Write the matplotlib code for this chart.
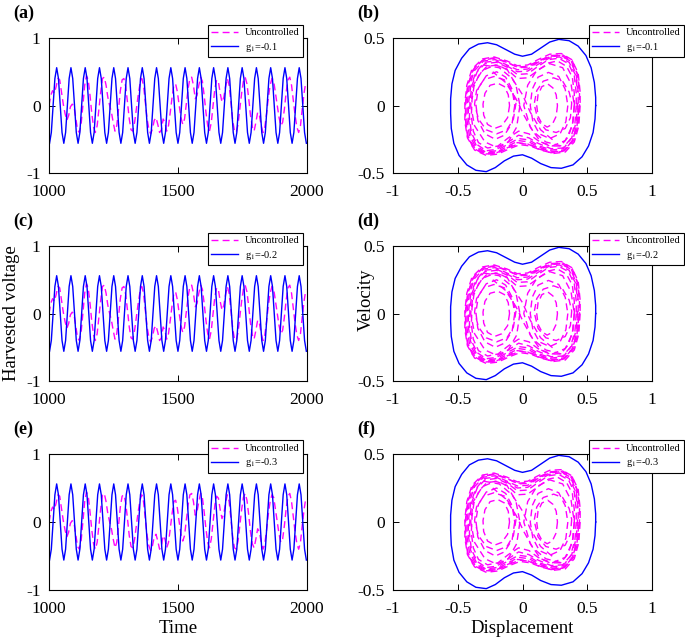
import numpy as np
import matplotlib
matplotlib.use("Agg")
import matplotlib.pyplot as plt

plt.rcParams['font.family'] = ['Liberation Serif', 'DejaVu Serif']
plt.rcParams['mathtext.fontset'] = 'stix'
plt.rcParams['axes.unicode_minus'] = False

# ---- time series ----
t_start_blue = 1002.1
dt_blue = 6.9125          # 8 samples per forcing period (~55.3)
# controlled voltage, one row per period
volt_ctrl = [
    -0.56, -0.40, 0.00, 0.40, 0.56, 0.40, 0.00, -0.40,
    -0.56, -0.40, 0.00, 0.40, 0.56, 0.40, 0.00, -0.40,
    -0.56, -0.40, 0.00, 0.40, 0.56, 0.40, 0.00, -0.40,
    -0.56, -0.40, 0.00, 0.40, 0.56, 0.40, 0.00, -0.40,
    -0.56, -0.40, 0.00, 0.40, 0.56, 0.40, 0.00, -0.40,
    -0.56, -0.40, 0.00, 0.40, 0.56, 0.40, 0.00, -0.40,
    -0.56, -0.40, 0.00, 0.40, 0.56, 0.40, 0.00, -0.40,
    -0.56, -0.40, 0.00, 0.40, 0.56, 0.40, 0.00, -0.40,
    -0.56, -0.40, 0.00, 0.40, 0.56, 0.40, 0.00, -0.40,
    -0.56, -0.40, 0.00, 0.40, 0.56, 0.40, 0.00, -0.40,
    -0.56, -0.40, 0.00, 0.40, 0.56, 0.40, 0.00, -0.40,
    -0.56, -0.40, 0.00, 0.40, 0.56, 0.40, 0.00, -0.40,
    -0.56, -0.40, 0.00, 0.40, 0.56, 0.40, 0.00, -0.40,
    -0.56, -0.40, 0.00, 0.40, 0.56, 0.40, 0.00, -0.40,
    -0.56, -0.40, 0.00, 0.40, 0.56, 0.40, 0.00, -0.40,
    -0.56, -0.40, 0.00, 0.40, 0.56, 0.40, 0.00, -0.40,
    -0.56, -0.40, 0.00, 0.40, 0.56, 0.40, 0.00, -0.40,
    -0.56, -0.40, 0.00, 0.40, 0.56, 0.40, 0.00, -0.40,
    -0.56,
]
# uncontrolled voltage (chaotic), same sampling step starting at 1000
volt_unc = [
    0.00, 0.15, 0.22, 0.18, 0.28, 0.40, 0.38, 0.20,
    0.02, -0.12, -0.22, -0.15, -0.02, 0.02, -0.01, -0.18,
    -0.36, -0.40, -0.28, 0.00, 0.30, 0.44, 0.38, 0.15,
    -0.12, -0.32, -0.40, -0.30, -0.05, 0.20, 0.40, 0.42,
    0.30, 0.12, 0.00, -0.10, -0.25, -0.38, -0.30, -0.05,
    0.22, 0.38, 0.40, 0.28, 0.05, -0.20, -0.36, -0.38,
    -0.25, -0.05, 0.15, 0.32, 0.40, 0.30, 0.05, -0.20,
    -0.35, -0.42, -0.35, -0.22, -0.18, -0.28, -0.40, -0.36,
    -0.20, -0.25, -0.38, -0.30, -0.10, 0.12, 0.30, 0.32,
    0.20, 0.00, -0.18, -0.28, -0.20, 0.02, 0.25, 0.40,
    0.42, 0.30, 0.10, 0.15, 0.30, 0.42, 0.36, 0.15,
    -0.10, -0.30, -0.38, -0.25, 0.00, 0.25, 0.38, 0.35,
    0.18, 0.05, 0.12, 0.28, 0.40, 0.30, 0.05, -0.22,
    -0.38, -0.40, -0.28, -0.05, 0.18, 0.36, 0.42, 0.32,
    0.10, -0.15, -0.32, -0.38, -0.25, -0.10, -0.15, -0.30,
    -0.40, -0.32, -0.12, 0.12, 0.30, 0.40, 0.36, 0.18,
    0.00, -0.18, -0.30, -0.25, -0.05, 0.20, 0.38, 0.42,
    0.30, 0.08, -0.15, -0.32, -0.40, -0.30, -0.05, 0.18,
    0.35,
]

# ---- phase portraits (displacement, velocity) ----
orbit_ctrl = [
    (0.565, 0.00), (0.56, -0.10), (0.545, -0.20), (0.51, -0.30), (0.46, -0.38),
    (0.39, -0.44), (0.30, -0.465), (0.22, -0.46), (0.14, -0.43), (0.07, -0.39),
    (0.00, -0.365), (-0.07, -0.375), (-0.14, -0.41), (-0.21, -0.46), (-0.28, -0.49),
    (-0.36, -0.48), (-0.43, -0.44), (-0.49, -0.37), (-0.53, -0.28), (-0.55, -0.17),
    (-0.555, -0.06), (-0.555, 0.05), (-0.545, 0.16), (-0.52, 0.26), (-0.47, 0.35),
    (-0.41, 0.42), (-0.34, 0.455), (-0.27, 0.465), (-0.20, 0.45), (-0.13, 0.415),
    (-0.06, 0.38), (0.00, 0.365), (0.07, 0.38), (0.14, 0.425), (0.21, 0.47),
    (0.28, 0.49), (0.36, 0.48), (0.43, 0.44), (0.49, 0.37), (0.53, 0.28),
    (0.555, 0.17), (0.565, 0.06), (0.565, 0.00),
]

loops_unc = [
    # large loops around both wells
    [(0.445, 0.00), (0.435, -0.15), (0.40, -0.27), (0.33, -0.345), (0.24, -0.355), (0.14, -0.33),
     (0.06, -0.30), (-0.02, -0.29), (-0.10, -0.32), (-0.19, -0.36), (-0.28, -0.37), (-0.37, -0.33),
     (-0.425, -0.24), (-0.445, -0.12), (-0.445, 0.02), (-0.43, 0.15), (-0.39, 0.27), (-0.31, 0.345),
     (-0.22, 0.36), (-0.12, 0.33), (-0.04, 0.295), (0.04, 0.30), (0.12, 0.34), (0.21, 0.38),
     (0.30, 0.385), (0.38, 0.34), (0.43, 0.24), (0.445, 0.10), (0.445, 0.00)],
    [(0.43, 0.00), (0.42, -0.14), (0.385, -0.26), (0.32, -0.33), (0.23, -0.34), (0.13, -0.31),
     (0.05, -0.27), (-0.03, -0.26), (-0.11, -0.30), (-0.20, -0.345), (-0.29, -0.35), (-0.36, -0.31),
     (-0.41, -0.22), (-0.43, -0.10), (-0.425, 0.03), (-0.41, 0.15), (-0.37, 0.26), (-0.30, 0.33),
     (-0.21, 0.34), (-0.12, 0.30), (-0.04, 0.265), (0.04, 0.27), (0.12, 0.32), (0.21, 0.36),
     (0.29, 0.37), (0.37, 0.33), (0.415, 0.23), (0.43, 0.10), (0.43, 0.00)],
    [(0.415, 0.00), (0.405, -0.13), (0.37, -0.25), (0.31, -0.315), (0.22, -0.32), (0.12, -0.28),
     (0.05, -0.24), (-0.03, -0.22), (-0.11, -0.27), (-0.20, -0.325), (-0.28, -0.335), (-0.35, -0.29),
     (-0.395, -0.20), (-0.41, -0.08), (-0.405, 0.04), (-0.39, 0.15), (-0.35, 0.25), (-0.29, 0.31),
     (-0.20, 0.32), (-0.11, 0.28), (-0.04, 0.23), (0.04, 0.235), (0.12, 0.29), (0.20, 0.34),
     (0.28, 0.35), (0.355, 0.31), (0.40, 0.22), (0.415, 0.09), (0.415, 0.00)],
    [(0.44, 0.00), (0.43, -0.14), (0.395, -0.26), (0.325, -0.335), (0.235, -0.345), (0.14, -0.32),
     (0.06, -0.29), (-0.02, -0.28), (-0.10, -0.31), (-0.19, -0.35), (-0.28, -0.36), (-0.365, -0.32),
     (-0.42, -0.23), (-0.44, -0.11), (-0.44, 0.02), (-0.425, 0.14), (-0.385, 0.26), (-0.31, 0.335),
     (-0.22, 0.35), (-0.12, 0.32), (-0.04, 0.285), (0.04, 0.29), (0.12, 0.33), (0.21, 0.365),
     (0.30, 0.37), (0.375, 0.33), (0.425, 0.23), (0.44, 0.10), (0.44, 0.00)],
    [(0.40, 0.00), (0.39, -0.12), (0.355, -0.23), (0.295, -0.30), (0.21, -0.30), (0.12, -0.26),
     (0.05, -0.21), (-0.03, -0.19), (-0.11, -0.24), (-0.19, -0.30), (-0.27, -0.315), (-0.34, -0.275),
     (-0.38, -0.19), (-0.395, -0.08), (-0.39, 0.04), (-0.375, 0.14), (-0.335, 0.23), (-0.275, 0.29),
     (-0.19, 0.30), (-0.11, 0.26), (-0.04, 0.20), (0.04, 0.205), (0.12, 0.26), (0.20, 0.315),
     (0.27, 0.33), (0.34, 0.29), (0.385, 0.21), (0.40, 0.09), (0.40, 0.00)],
    [(0.425, 0.02), (0.415, -0.12), (0.38, -0.24), (0.315, -0.32), (0.225, -0.33), (0.13, -0.30),
     (0.05, -0.255), (-0.03, -0.245), (-0.11, -0.285), (-0.20, -0.335), (-0.285, -0.345), (-0.355, -0.30),
     (-0.40, -0.21), (-0.42, -0.09), (-0.415, 0.03), (-0.40, 0.14), (-0.36, 0.245), (-0.295, 0.32),
     (-0.205, 0.33), (-0.115, 0.29), (-0.04, 0.25), (0.04, 0.255), (0.12, 0.305), (0.205, 0.35),
     (0.285, 0.36), (0.36, 0.32), (0.41, 0.225), (0.425, 0.10)],
    [(0.435, -0.02), (0.42, -0.16), (0.38, -0.27), (0.31, -0.34), (0.22, -0.35), (0.12, -0.32),
     (0.04, -0.285), (-0.04, -0.275), (-0.12, -0.315), (-0.21, -0.355), (-0.30, -0.36), (-0.38, -0.315),
     (-0.425, -0.225), (-0.44, -0.10), (-0.435, 0.04), (-0.415, 0.17), (-0.37, 0.28), (-0.30, 0.34),
     (-0.21, 0.355), (-0.11, 0.315), (-0.03, 0.28), (0.05, 0.285), (0.13, 0.33), (0.22, 0.37),
     (0.31, 0.375), (0.385, 0.33), (0.425, 0.23), (0.44, 0.11)],
    # loops inside the left well
    [(-0.10, 0.00), (-0.115, -0.09), (-0.16, -0.15), (-0.215, -0.17), (-0.27, -0.14), (-0.30, -0.07),
     (-0.305, 0.01), (-0.29, 0.09), (-0.25, 0.15), (-0.19, 0.165), (-0.14, 0.14), (-0.11, 0.08), (-0.10, 0.00)],
    [(-0.06, 0.00), (-0.08, -0.13), (-0.14, -0.22), (-0.21, -0.25), (-0.29, -0.21), (-0.345, -0.11),
     (-0.36, 0.01), (-0.34, 0.13), (-0.28, 0.22), (-0.20, 0.25), (-0.13, 0.21), (-0.08, 0.12), (-0.06, 0.00)],
    [(-0.02, 0.00), (-0.045, -0.16), (-0.11, -0.27), (-0.20, -0.31), (-0.29, -0.27), (-0.37, -0.15),
     (-0.40, 0.00), (-0.38, 0.15), (-0.31, 0.26), (-0.21, 0.30), (-0.12, 0.27), (-0.05, 0.15), (-0.02, 0.00)],
    [(-0.05, 0.02), (-0.07, -0.10), (-0.12, -0.18), (-0.20, -0.21), (-0.28, -0.18), (-0.34, -0.10),
     (-0.37, 0.01), (-0.355, 0.11), (-0.30, 0.19), (-0.22, 0.215), (-0.14, 0.19), (-0.08, 0.11), (-0.05, 0.02)],
    # loops inside the right well
    [(0.27, 0.00), (0.26, -0.08), (0.23, -0.14), (0.19, -0.16), (0.15, -0.135), (0.12, -0.08),
     (0.11, 0.00), (0.12, 0.08), (0.15, 0.14), (0.195, 0.16), (0.235, 0.13), (0.26, 0.08), (0.27, 0.00)],
    [(0.35, 0.00), (0.335, -0.12), (0.29, -0.21), (0.21, -0.245), (0.13, -0.21), (0.08, -0.12),
     (0.06, 0.00), (0.075, 0.12), (0.12, 0.21), (0.20, 0.245), (0.28, 0.215), (0.33, 0.12), (0.35, 0.00)],
    [(0.40, 0.00), (0.385, -0.15), (0.33, -0.26), (0.23, -0.30), (0.14, -0.27), (0.06, -0.16),
     (0.01, 0.00), (0.04, 0.15), (0.11, 0.26), (0.21, 0.31), (0.31, 0.28), (0.375, 0.16), (0.40, 0.00)],
    [(0.38, 0.02), (0.37, -0.09), (0.33, -0.17), (0.26, -0.20), (0.18, -0.18), (0.12, -0.11),
     (0.09, 0.01), (0.11, 0.11), (0.16, 0.18), (0.24, 0.205), (0.31, 0.18), (0.36, 0.10), (0.38, 0.02)],
    # crossings near the saddle
    [(-0.30, 0.30), (-0.18, 0.28), (-0.08, 0.20), (0.00, 0.08), (0.06, -0.05), (0.14, -0.18), (0.24, -0.26)],
    [(0.30, -0.30), (0.18, -0.27), (0.08, -0.19), (0.01, -0.07), (-0.05, 0.05), (-0.13, 0.17), (-0.23, 0.25)],
]

gains = ['-0.1', '-0.2', '-0.3']
panel_left = ['(a)', '(c)', '(e)']
panel_right = ['(b)', '(d)', '(f)']

blue = '#0000ff'
magenta = '#ff00ff'
dash = (5, 3)

t_ctrl = t_start_blue + dt_blue * np.arange(len(volt_ctrl))
t_unc = 1000 + dt_blue * np.arange(len(volt_unc))
xo, vo = zip(*orbit_ctrl)

fig = plt.figure(figsize=(6.85, 6.44), dpi=100)
W, H = 685.0, 644.0
rows = [(38, 173), (246, 381), (454, 590)]


def style(ax):
    ax.tick_params(direction='in', top=True, right=True, labelsize=12.5, length=4, width=0.7)
    ax.tick_params(axis='x', pad=8)
    ax.tick_params(axis='y', pad=6)
    for s in ax.spines.values():
        s.set_linewidth(0.8)


def add_legend(ax, xanchor):
    leg = ax.legend(loc='upper right', bbox_to_anchor=(xanchor, 1.10), fontsize=7.5,
                    fancybox=False, edgecolor='black', framealpha=1, handlelength=2.6,
                    borderpad=0.35, labelspacing=0.3, handletextpad=0.6, borderaxespad=0)
    leg.get_frame().set_linewidth(0.8)


for i, (top, bot) in enumerate(rows):
    # time history
    ax = fig.add_axes([49 / W, 1 - bot / H, 258 / W, (bot - top) / H])
    ax.plot(t_unc, volt_unc, color=magenta, lw=1.0, dashes=dash, label='Uncontrolled')
    ax.plot(t_ctrl, volt_ctrl, color=blue, lw=1.0, label='g$_1$=' + gains[i])
    ax.set_xlim(1000, 2000)
    ax.set_ylim(-1, 1)
    ax.set_xticks([1000, 1500, 2000])
    ax.set_yticks([-1, 0, 1])
    ax.set_yticklabels(['-1', '0', '1'])
    style(ax)
    add_legend(ax, 0.985)
    fig.text(13 / W, 1 - (top - 25) / H, panel_left[i], fontsize=13, fontweight='bold', va='center')
    if i == 2:
        ax.set_xlabel('Time', fontsize=13.5, labelpad=2)

    # phase portrait
    ax = fig.add_axes([393 / W, 1 - bot / H, 259 / W, (bot - top) / H])
    for k, lp in enumerate(loops_unc):
        x, v = zip(*lp)
        ax.plot(x, v, color=magenta, lw=1.0, dashes=dash, label='Uncontrolled' if k == 0 else None)
    ax.plot(xo, vo, color=blue, lw=1.0, label='g$_1$=' + gains[i])
    ax.set_xlim(-1, 1)
    ax.set_ylim(-0.5, 0.5)
    ax.set_xticks([-1, -0.5, 0, 0.5, 1])
    ax.set_xticklabels(['-1', '-0.5', '0', '0.5', '1'])
    ax.set_yticks([-0.5, 0, 0.5])
    ax.set_yticklabels(['-0.5', '0', '0.5'])
    style(ax)
    add_legend(ax, 1.124)
    fig.text(357 / W, 1 - (top - 25) / H, panel_right[i], fontsize=13, fontweight='bold', va='center')
    if i == 2:
        ax.set_xlabel('Displacement', fontsize=13.5, labelpad=2)

fig.text(12 / W, 1 - 313 / H, 'Harvested voltage', fontsize=13.5, rotation=90, va='center', ha='center')
fig.text(366 / W, 1 - 300 / H, 'Velocity', fontsize=13.5, rotation=90, va='center', ha='center')

fig.savefig('out.png', dpi=100)
